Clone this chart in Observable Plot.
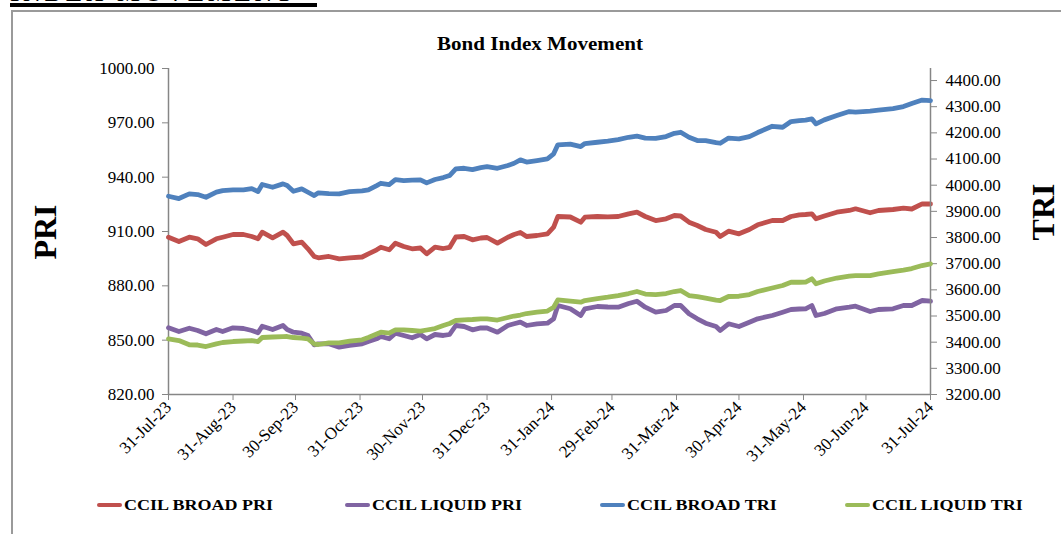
<!DOCTYPE html>
<html><head><meta charset="utf-8">
<script src="https://cdn.jsdelivr.net/npm/d3@7"></script>
<script src="https://cdn.jsdelivr.net/npm/@observablehq/plot@0.6"></script>
<style>
body{margin:0;background:#fff;}
#wrap{position:relative;width:1061px;height:534px;overflow:hidden;font-family:"Liberation Serif","Times New Roman",serif;color:#000;}
#frame{position:absolute;left:11px;top:10px;width:1080px;height:560px;border:2px solid #9a9a9a;box-sizing:border-box;}
#hdr{position:absolute;left:10px;top:-17px;width:307px;font-weight:bold;font-size:24px;line-height:20px;border-bottom:4px solid #000;white-space:nowrap;letter-spacing:4px;overflow:hidden;}
#title{position:absolute;top:34px;left:540px;text-align:center;font-weight:bold;font-size:18px;line-height:21px;white-space:nowrap;transform:translateX(-50%) scaleX(1.17);}
.ylab{position:absolute;font-weight:bold;font-size:32px;line-height:32px;transform:translate(-50%,-50%) rotate(-90deg);white-space:nowrap;}
.chart{position:absolute;left:0;top:0;}
.leg{position:absolute;top:496px;height:18px;display:flex;align-items:center;font-weight:bold;font-size:15px;white-space:nowrap;}
.leg i{display:inline-block;width:25px;height:4px;border-radius:2px;margin-right:2px;flex:none;}
.leg span{display:inline-block;transform:scaleX(1.2);transform-origin:left center;}
</style></head>
<body><div id="wrap">
<div id="hdr">INDEX MOVEMENT</div>
<div id="frame"></div>
<div id="title">Bond Index Movement</div>
<div class="ylab" style="left:45px;top:232px;">PRI</div>
<div class="ylab" style="left:1043px;top:212px;">TRI</div>
<div id="c1" class="chart"></div>
<div id="c2" class="chart"></div>
<div id="legend"></div>
</div>
<script>
const dates = ["2023-07-31","2023-08-05","2023-08-10","2023-08-14","2023-08-18","2023-08-23","2023-08-26","2023-08-31","2023-09-05","2023-09-09",
"2023-09-12","2023-09-14","2023-09-19","2023-09-24","2023-09-26","2023-09-29","2023-10-03","2023-10-06","2023-10-09","2023-10-11",
"2023-10-16","2023-10-21","2023-10-26","2023-11-01","2023-11-04","2023-11-08","2023-11-10","2023-11-14","2023-11-17","2023-11-21",
"2023-11-25","2023-11-29","2023-12-02","2023-12-06","2023-12-10","2023-12-13","2023-12-16","2023-12-20","2023-12-24","2023-12-28",
"2023-12-31","2024-01-05","2024-01-10","2024-01-13","2024-01-16","2024-01-19","2024-01-24","2024-01-29","2024-02-01","2024-02-03",
"2024-02-09","2024-02-14","2024-02-16","2024-02-22","2024-02-27","2024-03-03","2024-03-08","2024-03-12","2024-03-16","2024-03-21",
"2024-03-26","2024-03-30","2024-04-02","2024-04-06","2024-04-10","2024-04-14","2024-04-19","2024-04-21","2024-04-25","2024-04-30",
"2024-05-05","2024-05-09","2024-05-16","2024-05-21","2024-05-25","2024-05-29","2024-06-01","2024-06-04","2024-06-06","2024-06-10",
"2024-06-16","2024-06-22","2024-06-25","2024-07-02","2024-07-06","2024-07-13","2024-07-18","2024-07-22","2024-07-27","2024-07-31"];

const broadPri = [906.85,904.48,906.85,905.97,902.82,905.97,906.85,908.34,908.34,907.24,
905.97,909.61,906.52,909.61,907.79,903.21,904.09,900.45,896.20,895.48,
896.20,894.93,895.48,895.92,897.69,899.90,901.33,899.90,903.54,901.72,
900.45,900.89,897.69,901.33,900.61,901.17,906.96,907.24,905.42,906.41,
906.69,903.54,906.85,908.34,909.45,907.24,907.79,908.73,912.37,918.28,
918.01,915.14,917.90,918.28,918.12,918.28,919.77,920.66,918.28,916.07,
917.01,918.83,918.56,915.14,913.31,911.10,909.61,907.24,910.17,908.73,
911.10,913.70,916.07,916.07,918.28,919.22,919.39,919.77,917.01,918.56,
920.66,921.60,922.53,920.33,921.60,922.15,922.87,922.42,925.30,925.18];

const liquidPri = [856.83,854.79,856.61,855.34,853.52,855.89,854.79,856.83,856.44,855.34,
854.07,857.71,855.89,858.10,855.89,854.40,853.85,852.58,847.44,847.99,
847.99,846.12,847.06,847.99,849.26,850.75,852.02,850.75,853.85,852.58,
851.31,853.13,850.75,853.13,852.58,853.13,858.10,857.55,855.72,856.83,
856.72,854.40,858.10,859.04,859.92,858.10,859.04,859.37,861.80,869.14,
867.32,863.62,867.32,868.59,868.31,868.20,870.25,871.52,868.20,865.44,
866.38,869.14,869.14,864.56,861.80,859.37,857.55,855.34,859.04,857.55,
859.92,861.80,863.62,865.44,866.93,867.21,867.32,869.14,863.62,864.72,
867.32,868.20,868.76,865.83,866.93,867.32,869.14,869.14,871.90,871.52];

const broadTri = [3957.7,3949.0,3966.9,3964.2,3953.9,3973.8,3979.5,3982.2,3982.2,3987.2,
3975.7,4002.5,3992.1,4005.1,3998.6,3976.9,3986.0,3973.0,3960.4,3970.7,
3968.1,3966.9,3975.7,3978.4,3982.2,3998.6,4007.4,4002.5,4021.6,4017.7,
4019.6,4020.4,4008.9,4021.6,4029.2,4036.8,4062.4,4064.7,4059.8,4067.4,
4071.2,4064.7,4075.1,4083.8,4096.8,4088.4,4094.2,4100.7,4119.8,4154.2,
4157.2,4147.7,4159.1,4164.1,4168.7,4174.4,4183.2,4187.8,4180.1,4179.0,
4185.9,4198.5,4202.3,4183.2,4170.6,4170.6,4162.9,4160.3,4180.1,4177.1,
4185.9,4201.2,4225.2,4221.4,4243.2,4247.0,4248.9,4253.5,4234.4,4249.7,
4266.1,4281.4,4279.5,4283.3,4287.1,4292.9,4300.5,4312.0,4325.3,4323.4];

const liquidTri = [3412.8,3406.3,3389.9,3389.1,3383.4,3393.7,3398.7,3402.5,3404.4,3406.3,
3402.5,3417.8,3419.7,3420.9,3421.6,3417.8,3415.1,3412.8,3393.0,3391.1,
3397.6,3397.6,3403.7,3409.0,3417.8,3431.2,3438.1,3434.2,3447.2,3447.2,
3444.6,3441.9,3446.5,3452.2,3463.7,3471.3,3482.8,3485.4,3486.6,3489.3,
3489.3,3484.7,3494.2,3500.0,3503.8,3509.5,3514.5,3519.1,3533.6,3561.9,
3556.5,3552.7,3559.2,3566.8,3571.8,3578.3,3585.9,3593.6,3584.0,3582.1,
3585.9,3593.6,3597.4,3578.3,3574.5,3568.7,3561.1,3559.2,3574.5,3575.6,
3582.1,3593.6,3607.0,3616.5,3629.1,3629.1,3629.9,3642.1,3623.0,3633.7,
3645.2,3652.8,3654.7,3654.7,3661.2,3670.0,3675.7,3681.5,3692.9,3699.4];

const monthTicks = ["2023-07-31","2023-08-31","2023-09-30","2023-10-31","2023-11-30","2023-12-31",
"2024-01-31","2024-02-29","2024-03-31","2024-04-30","2024-05-31","2024-06-30","2024-07-31"];
const priTicks = [820, 850, 880, 910, 940, 970, 1000];
const triTicks = [3200,3300,3400,3500,3600,3700,3800,3900,4000,4100,4200,4300,4400];
const priDomain = [820, 1000];
const triDomain = [3200, 4446];
const seriesNames = ["CCIL BROAD PRI", "CCIL LIQUID PRI", "CCIL BROAD TRI", "CCIL LIQUID TRI"];

const colors = ["#C0504D", "#8064A2", "#4F81BD", "#9BBB59"];
const axisGray = "#868686";
const parse = d3.utcParse("%Y-%m-%d");
const fmt = d3.utcFormat("%d-%b-%y");
const xDates = dates.map(parse);
const xTicks = monthTicks.map(parse);
const xDomain = [xTicks[0], xTicks[xTicks.length - 1]];
const rows = vals => xDates.map((date, i) => ({date, value: vals[i]}));

const W = 1061, H = 470;
const common = {
  width: W, height: H, marginLeft: 168, marginRight: 131, marginTop: 68, marginBottom: 76,
  style: {fontFamily: '"Liberation Serif","Times New Roman",serif', fontSize: "17px", background: "transparent", overflow: "visible"}
};
const lineOpts = (c) => ({x: "date", y: "value", stroke: c, strokeWidth: 4.8, strokeLinejoin: "round", strokeLinecap: "round"});

const p1 = Plot.plot({
  ...common,
  x: {type: "utc", domain: xDomain, label: null},
  y: {domain: priDomain, label: null},
  marks: [
    Plot.axisX({ticks: xTicks, tickFormat: fmt, tickRotate: -45, tickSize: 6, tickPadding: 4, stroke: axisGray, fill: "black", label: null}),
    Plot.axisY({ticks: priTicks, tickFormat: d => d.toFixed(2), tickSize: 6, tickPadding: 8, stroke: axisGray, fill: "black", label: null}),
    Plot.ruleX([xDomain[0]], {stroke: axisGray, strokeWidth: 1.5}),
    Plot.ruleY([priDomain[0]], {stroke: axisGray, strokeWidth: 1.5}),
    Plot.line(rows(broadPri), lineOpts(colors[0])),
    Plot.line(rows(liquidPri), lineOpts(colors[1]))
  ]
});
document.getElementById("c1").append(p1);

const p2 = Plot.plot({
  ...common,
  x: {type: "utc", domain: xDomain, axis: null},
  y: {domain: triDomain, label: null},
  marks: [
    Plot.axisY({anchor: "right", ticks: triTicks, tickFormat: d => d.toFixed(2), tickSize: 6, tickPadding: 9, stroke: axisGray, fill: "black", label: null}),
    Plot.ruleX([xDomain[1]], {stroke: axisGray, strokeWidth: 1.5}),
    Plot.line(rows(broadTri), lineOpts(colors[2])),
    Plot.line(rows(liquidTri), lineOpts(colors[3]))
  ]
});
document.getElementById("c2").append(p2);

const legendLefts = [97, 345, 600, 845];
const lg = document.getElementById("legend");
seriesNames.forEach((name, i) => {
  const d = document.createElement("div");
  d.className = "leg";
  d.style.left = legendLefts[i] + "px";
  d.innerHTML = `<i style="background:${colors[i]}"></i><span>${name}</span>`;
  lg.append(d);
});
</script>
</body></html>
